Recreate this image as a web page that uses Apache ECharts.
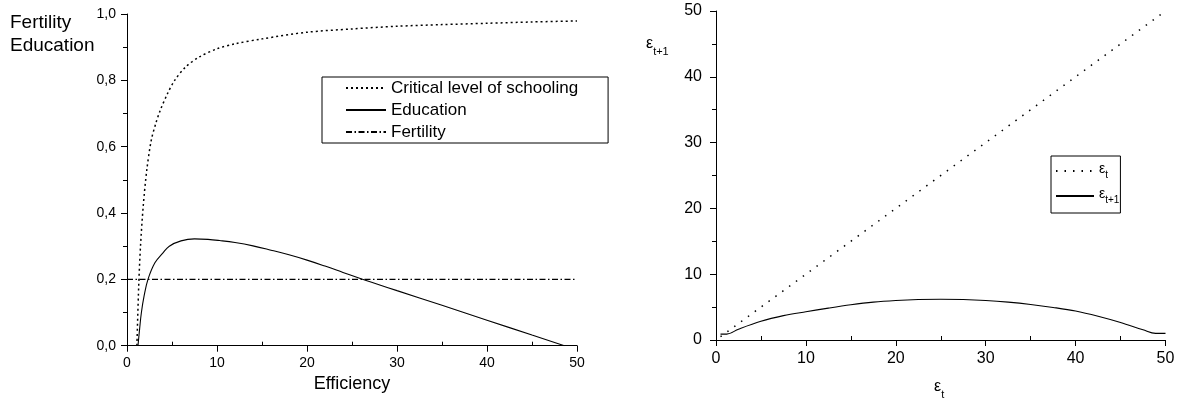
<!DOCTYPE html>
<html><head><meta charset="utf-8">
<script src="https://cdn.jsdelivr.net/npm/echarts@6/dist/echarts.min.js"></script>
<style>html,body{margin:0;padding:0;background:#fff}#c{width:1186px;height:407px}</style>
</head><body><div id="c"></div>
<script>
// ---- Left panel data ----
const criticalX = [1.1, 1.3, 1.5, 1.8, 2.2, 2.7, 3.2, 3.7, 4.5, 5.3, 6.5, 8, 10, 12, 15, 20, 25, 30, 35, 40, 45, 50];
const criticalY = [0, 0.18, 0.3, 0.42, 0.53, 0.62, 0.67, 0.71, 0.76, 0.8, 0.84, 0.87, 0.895, 0.91, 0.925, 0.945, 0.955, 0.963, 0.968, 0.972, 0.976, 0.979];
const educationX = [1.22, 1.4, 1.6, 1.9, 2.33, 3.1, 4, 4.7, 6, 7.5, 9, 10.3, 12, 14, 16, 18, 20, 22, 24, 26, 28, 30, 35, 40, 45, 48.6];
const educationY = [0, 0.05, 0.1, 0.15, 0.2, 0.25, 0.28, 0.3, 0.316, 0.322, 0.3205, 0.317, 0.311, 0.301, 0.288, 0.274, 0.258, 0.24, 0.221, 0.202, 0.184, 0.166, 0.122, 0.077, 0.032, 0];
const fertilityX = [0, 50];
const fertilityY = [0.2, 0.2];
const leftSeriesNames = ['Critical level of schooling', 'Education', 'Fertility'];
const leftXTicks = ['0', '10', '20', '30', '40', '50'];
const leftYTicks = ['0,0', '0,2', '0,4', '0,6', '0,8', '1,0'];

// ---- Right panel data ----
const epsTX = [0.5, 50];
const epsTY = [0.5, 50];
const epsNextX = [0.5, 1.2, 2.5, 5, 7.5, 10, 12.5, 15, 17.5, 20, 22.5, 25, 27.5, 30, 32.5, 35, 37.5, 40, 42.5, 45, 47.5, 48.9, 50];
const epsNextY = [0.9, 0.9, 1.65, 2.85, 3.7, 4.3, 4.85, 5.35, 5.75, 6.0, 6.15, 6.2, 6.15, 6.0, 5.75, 5.4, 4.95, 4.4, 3.6, 2.65, 1.55, 1.0, 1.0];
const rightXTicks = ['0', '10', '20', '30', '40', '50'];
const rightYTicks = ['0', '10', '20', '30', '40', '50'];

const FONT = 'Liberation Sans, Arial, sans-serif';
const zip = (xs, ys) => xs.map((x, i) => [x, ys[i]]);

function mainX(gridIndex, labels, fontSize, margin, name, nameGap) {
  return {
    type: 'value', gridIndex, min: 0, max: 50, interval: 10, position: 'bottom',
    name: name || '', nameLocation: 'middle', nameGap: nameGap || 0,
    nameTextStyle: { fontFamily: FONT, fontSize: 18, color: '#000' },
    axisLine: { show: true, onZero: false, lineStyle: { color: '#000', width: 1 } },
    axisTick: { show: true, inside: false, length: 6, lineStyle: { color: '#000', width: 1 } },
    minorTick: { show: false },
    axisLabel: { show: true, margin, color: '#000', fontFamily: FONT, fontSize,
      formatter: v => labels[Math.round(v / 10)] },
    splitLine: { show: false }
  };
}
function minorX(gridIndex) {
  return {
    type: 'value', gridIndex, min: 0, max: 50, interval: 10, position: 'bottom',
    axisLine: { show: false, onZero: false },
    axisTick: { show: false, inside: true },
    minorTick: { show: true, splitNumber: 2, length: 4, lineStyle: { color: '#000', width: 1 } },
    axisLabel: { show: false },
    splitLine: { show: false }, minorSplitLine: { show: false }
  };
}
function mainY(gridIndex, max, interval, labels, fontSize, margin) {
  return {
    type: 'value', gridIndex, min: 0, max, interval,
    axisLine: { show: true, onZero: false, lineStyle: { color: '#000', width: 1 } },
    axisTick: { show: true, inside: false, length: 6, lineStyle: { color: '#000', width: 1 } },
    minorTick: { show: true, splitNumber: 2, length: 4, lineStyle: { color: '#000', width: 1 } },
    axisLabel: { show: true, margin, color: '#000', fontFamily: FONT, fontSize,
      formatter: v => labels[Math.round(v / interval)] },
    splitLine: { show: false }, minorSplitLine: { show: false }
  };
}

const epsRich = {
  e: { fontFamily: FONT, fontSize: 14, color: '#000', verticalAlign: 'top' },
  s: { fontFamily: FONT, fontSize: 10, color: '#000', verticalAlign: 'bottom', padding: [8, 0, 0, 0] }
};
const epsRichBig = {
  e: { fontFamily: FONT, fontSize: 16, color: '#000', verticalAlign: 'top' },
  s: { fontFamily: FONT, fontSize: 11, color: '#000', verticalAlign: 'bottom', padding: [10, 0, 0, 0] }
};

const chart = echarts.init(document.getElementById('c'), null, { renderer: 'canvas' });
chart.setOption({
  animation: false,
  backgroundColor: '#fff',
  grid: [
    { left: 127, top: 14, width: 450, height: 331.7, containLabel: false, outerBoundsMode: 'none' },
    { left: 716, top: 11, width: 449.5, height: 329, containLabel: false, outerBoundsMode: 'none' }
  ],
  xAxis: [
    mainX(0, leftXTicks, 14, 10, 'Efficiency', 24),
    minorX(0),
    mainX(1, rightXTicks, 16, 11),
    minorX(1)
  ],
  yAxis: [
    mainY(0, 1, 0.2, leftYTicks, 14, 11),
    mainY(1, 50, 10, rightYTicks, 16, 14)
  ],
  legend: [
    {
      data: leftSeriesNames, orient: 'vertical', left: 322, top: 77,
      itemWidth: 40, itemHeight: 14, itemGap: 2,
      padding: [1, 30, 1, 23], borderColor: '#000', borderWidth: 1, borderRadius: 0,
      itemStyle: { opacity: 0 },
      textStyle: { fontFamily: FONT, fontSize: 17, lineHeight: 20, color: '#000' },
      selectedMode: false
    },
    {
      data: ['eps_t', 'eps_t1'], orient: 'vertical', left: 1051, top: 156,
      itemWidth: 38, itemHeight: 10, itemGap: 7,
      padding: [6, 1, 8, 4], borderColor: '#000', borderWidth: 1, borderRadius: 0,
      itemStyle: { opacity: 0 },
      formatter: n => n === 'eps_t' ? '{e|ε}{s|t}' : '{e|ε}{s|t+1}',
      textStyle: { fontFamily: FONT, fontSize: 14, color: '#000', rich: epsRich },
      selectedMode: false
    }
  ],
  series: [
    { name: leftSeriesNames[0], type: 'line', xAxisIndex: 0, yAxisIndex: 0, data: zip(criticalX, criticalY),
      symbol: 'none', smooth: 0.3, color: '#000',
      lineStyle: { color: '#000', width: 1.5, type: [2, 3] } },
    { name: leftSeriesNames[1], type: 'line', xAxisIndex: 0, yAxisIndex: 0, data: zip(educationX, educationY),
      symbol: 'none', smooth: 0.4, color: '#000',
      lineStyle: { color: '#000', width: 1.1, type: 'solid' } },
    { name: leftSeriesNames[2], type: 'line', xAxisIndex: 0, yAxisIndex: 0, data: zip(fertilityX, fertilityY),
      symbol: 'none', color: '#000',
      lineStyle: { color: '#000', width: 1.1, type: [6, 2.5, 1.5, 2.5] } },
    { name: 'eps_t', type: 'line', xAxisIndex: 2, yAxisIndex: 1, data: zip(epsTX, epsTY),
      symbol: 'none', color: '#000',
      lineStyle: { color: '#000', width: 1.5, type: [1.5, 7] } },
    { name: 'eps_t1', type: 'line', xAxisIndex: 2, yAxisIndex: 1, data: zip(epsNextX, epsNextY),
      symbol: 'none', smooth: 0.35, color: '#000',
      lineStyle: { color: '#000', width: 1.1, type: 'solid' } }
  ],
  graphic: [
    { type: 'text', left: 10, top: 11, style: { text: 'Fertility\nEducation', fontFamily: FONT, fontSize: 19, lineHeight: 23, fill: '#000' } },
    { type: 'text', left: 646, top: 36, style: { text: '{e|ε}{s|t+1}', rich: epsRichBig, fill: '#000' } },
    { type: 'text', left: 934, top: 379, style: { text: '{e|ε}{s|t}', rich: epsRichBig, fill: '#000' } }
  ]
});
</script>
</body></html>
